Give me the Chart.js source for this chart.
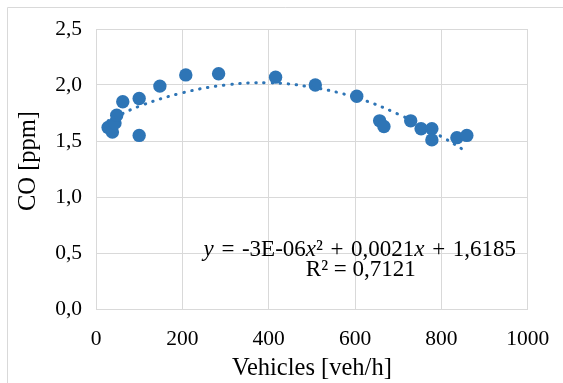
<!DOCTYPE html>
<html>
<head>
<meta charset="utf-8">
<script src="https://cdn.jsdelivr.net/npm/chart.js@4/dist/chart.umd.min.js"></script>
<style>
    html, body { margin: 0; padding: 0; background: #fff; }
    canvas { display: block; }
</style>
</head>
<body>
<canvas id="grafico" width="563" height="383"></canvas>
<script>
// valores
const veiculos = [28, 38, 44, 48, 62, 100, 100, 148, 208, 284, 416, 508, 604, 657, 667, 729, 753, 778, 778, 836, 859];
const co = [1.62, 1.58, 1.66, 1.73, 1.85, 1.88, 1.55, 1.99, 2.09, 2.10, 2.07, 2.00, 1.90, 1.68, 1.63, 1.68, 1.61, 1.61, 1.51, 1.53, 1.55];

// linha de tendência
const tendX = [28, 100, 200, 300, 400, 500, 600, 700, 800, 860];
const tendY = [1.68, 1.81, 1.93, 2.00, 2.02, 1.98, 1.89, 1.74, 1.54, 1.40];

const ticksX = [0, 200, 400, 600, 800, 1000];
const ticksY = [0, 0.5, 1, 1.5, 2, 2.5];

// pedaços da equação: [texto, itálico]; " " vira um espaço fixo
const equacao = [
    ["y", true], [" "], ["=", false], [" "], ["-3E-06", false], ["x", true], ["²", false],
    [" "], ["+", false], [" "], ["0,0021", false], ["x", true],
    [" "], ["+", false], [" "], ["1,6185", false]
];
const r2 = "R² = 0,7121";
const tituloY = "CO [ppm]";

const azul = "#2e75b6";
const cinza = "#d9d9d9";
const fonte = "'Liberation Serif', 'Times New Roman', serif";

const pontos = veiculos.map((v, i) => ({ x: v, y: co[i] }));
const tendencia = tendX.map((v, i) => ({ x: v, y: tendY[i] }));

const moldura = {
    id: "moldura",
    beforeDraw(chart) {
        const ctx = chart.ctx;
        ctx.save();
        ctx.strokeStyle = cinza;
        ctx.lineWidth = 1;
        ctx.beginPath();
        ctx.moveTo(7.5, 383);
        ctx.lineTo(7.5, 7.5);
        ctx.lineTo(563, 7.5);
        ctx.stroke();
        ctx.restore();
    }
};

const textos = {
    id: "textos",
    afterDraw(chart) {
        const ctx = chart.ctx;
        const a = chart.chartArea;
        const cx = a.left + (a.right - a.left) * 0.611;
        const y1 = a.top + (a.bottom - a.top) * 0.812;
        const espaco = 7.6;
        ctx.save();
        ctx.fillStyle = "#000";
        ctx.textBaseline = "alphabetic";
        ctx.textAlign = "left";

        const fontes = it => `${it ? "italic " : ""}23px ${fonte}`;
        const largura = ([t, it]) => {
            if (t === " ") return espaco;
            ctx.font = fontes(it);
            return ctx.measureText(t).width;
        };
        const total = equacao.reduce((s, p) => s + largura(p), 0);
        let x = cx - total / 2;
        equacao.forEach(p => {
            const w = largura(p);
            if (p[0] !== " ") {
                ctx.font = fontes(p[1]);
                ctx.fillText(p[0], x, y1);
            }
            x += w;
        });

        ctx.font = fontes(false);
        ctx.textAlign = "center";
        ctx.fillText(r2, cx + 1, y1 + 20);

        // título do eixo y
        ctx.translate(29, 161);
        ctx.rotate(-Math.PI / 2);
        ctx.font = `24.5px ${fonte}`;
        ctx.textBaseline = "middle";
        ctx.fillText(tituloY, 0, 0);
        ctx.restore();
    }
};

new Chart(document.getElementById("grafico"), {
    type: "scatter",
    data: {
        datasets: [
            {
                label: "CO",
                data: pontos,
                backgroundColor: azul,
                borderWidth: 0,
                pointRadius: 6.7,
                pointHoverRadius: 6.7,
                order: 1
            },
            {
                label: "Tendência",
                data: tendencia,
                showLine: true,
                borderColor: azul,
                borderWidth: 3,
                borderDash: [0.5, 7.6],
                borderCapStyle: "round",
                tension: 0.4,
                pointRadius: 0,
                order: 0
            }
        ]
    },
    options: {
        responsive: false,
        animation: false,
        devicePixelRatio: 1,
        layout: { padding: { left: 0, top: 29, right: 35.3, bottom: 0 } },
        plugins: {
            legend: { display: false },
            tooltip: { enabled: false }
        },
        scales: {
            x: {
                type: "linear",
                min: 0,
                max: 1000,
                afterBuildTicks: s => { s.ticks = ticksX.map(v => ({ value: v })); },
                afterFit: s => {
                    s.height = 74;
                    s.paddingLeft = 0;
                    s.paddingRight = 0;
                },
                grid: { color: cinza, drawTicks: false },
                border: { color: cinza },
                ticks: {
                    color: "#000",
                    padding: 17,
                    font: { family: fonte, size: 21.5 },
                    callback: v => String(v)
                },
                title: {
                    display: true,
                    text: "Vehicles [veh/h]",
                    color: "#000",
                    font: { family: fonte, size: 24.5 },
                    padding: { top: 0, bottom: 0 }
                }
            },
            y: {
                type: "linear",
                min: 0,
                max: 2.5,
                afterBuildTicks: s => { s.ticks = ticksY.map(v => ({ value: v })); },
                afterFit: s => { s.width = 96; },
                grid: { color: cinza, drawTicks: false },
                border: { color: cinza },
                ticks: {
                    color: "#000",
                    padding: 14,
                    font: { family: fonte, size: 21.5 },
                    callback: v => v.toFixed(1).replace(".", ",")
                }
            }
        }
    },
    plugins: [moldura, textos]
});
</script>
</body>
</html>
